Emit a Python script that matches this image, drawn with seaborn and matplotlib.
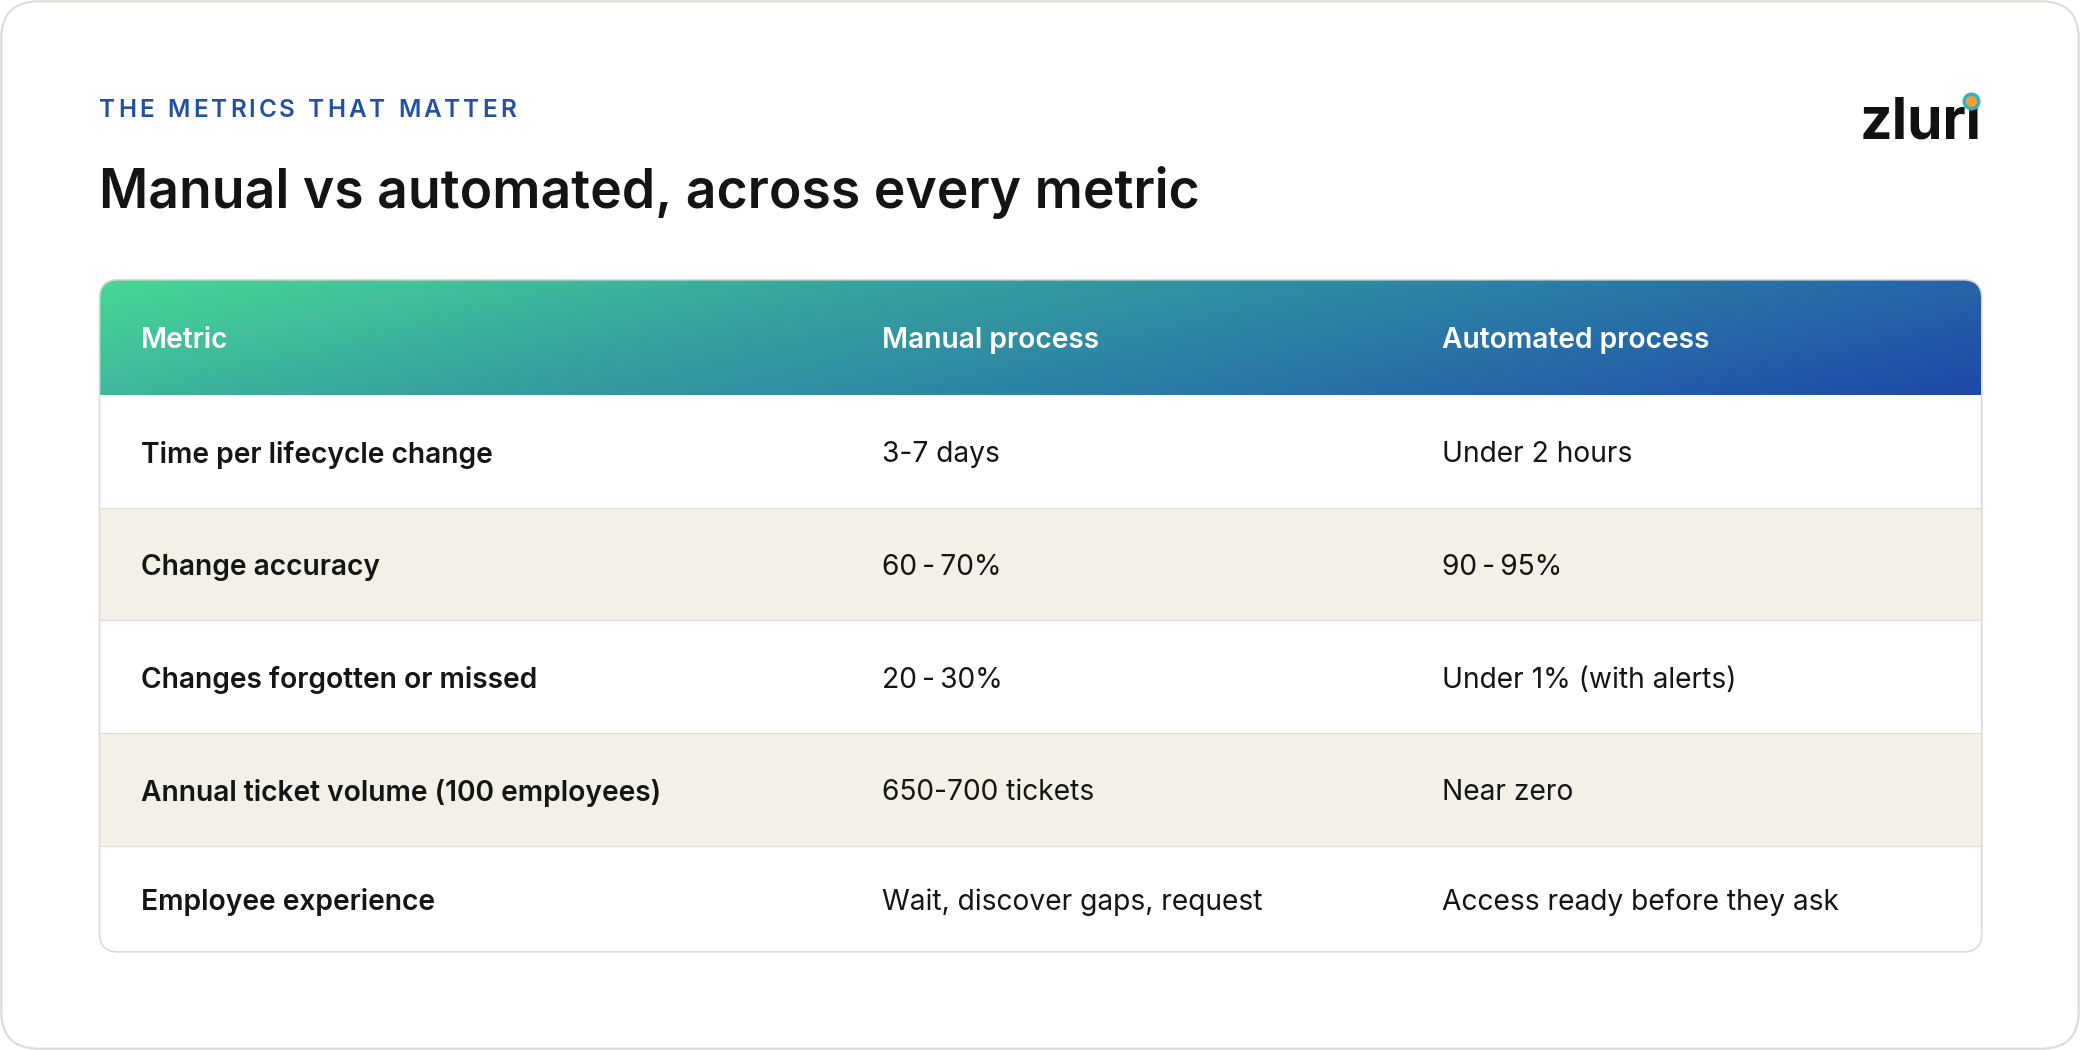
import matplotlib
matplotlib.use("Agg")
import matplotlib.pyplot as plt
import numpy as np
import seaborn as sns
from matplotlib.patches import FancyBboxPatch, Rectangle
from matplotlib.colors import LinearSegmentedColormap

eyebrow = "THE METRICS THAT MATTER"
title = "Manual vs automated, across every metric"
columns = ["Metric", "Manual process", "Automated process"]
metrics = ["Time per lifecycle change", "Change accuracy", "Changes forgotten or missed",
           "Annual ticket volume (100 employees)", "Employee experience"]
manual = ["3-7 days", "60\u2009-\u200970%", "20\u2009-\u200930%", "650-700 tickets", "Wait, discover gaps, request"]
automated = ["Under 2 hours", "90\u2009-\u200995%", "Under 1% (with alerts)", "Near zero", "Access ready before they ask"]

sns.set_style("white")
plt.rcParams['font.family'] = ['Inter', 'DejaVu Sans']

W, H = 1568, 792
fig = plt.figure(figsize=(20.8, 10.5), dpi=100)
ax = fig.add_axes([0, 0, 1, 1])
ax.set_xlim(0, W); ax.set_ylim(H, 0); ax.axis("off")

card = FancyBboxPatch((1, 1), W-2, H-2, boxstyle="round,pad=0,rounding_size=28",
                      fc="white", ec="#dcdcd6", lw=1.5)
ax.add_patch(card)

fig.canvas.draw()
renderer = fig.canvas.get_renderer()
x = 75.0
px_per_unit = fig.bbox.width / W
for ch in eyebrow:
    t = ax.text(x, 83.5, ch, fontsize=17.5, color="#2150a6", fontweight="semibold", va="center", ha="left")
    wpx = t.get_window_extent(renderer).width if ch != " " else 17.5 * 0.28 * 100 / 72
    x += wpx / px_per_unit + 2.3

ax.text(75, 145.5, title, fontsize=38.5, color="#141414", fontweight="semibold", va="center", ha="left")
ax.text(1494, 93, "zluri", fontsize=41, color="#111111", fontweight="bold", va="center", ha="right")
ax.scatter([1486], [76], s=110, color="#f0a030", edgecolor="#35b0c8", linewidth=2.5, zorder=5)

tx0, tx1, ty0, ty1 = 75, 1494, 211, 718
clip = FancyBboxPatch((tx0, ty0), tx1-tx0, ty1-ty0, boxstyle="round,pad=0,rounding_size=14",
                      fc="none", ec="none", transform=ax.transData)
ax.add_patch(clip)

hdr_bottom = 298
cmap = LinearSegmentedColormap.from_list("g", ["#48d896", "#37a39e", "#2a78a6", "#1f48a8"])
grad = np.linspace(0, 1, 400)[None, :] * 0.8 + np.linspace(0, 0.2, 50)[:, None]
im = ax.imshow(grad, cmap=cmap, extent=(tx0, tx1, hdr_bottom, ty0), aspect="auto", zorder=2)
im.set_clip_path(clip)

row_edges = [298, 383, 468, 553, 638, 718]
row_colors = ["white", "#f3f0e8", "white", "#f3f0e8", "white"]
for i in range(5):
    r = Rectangle((tx0, row_edges[i]), tx1-tx0, row_edges[i+1]-row_edges[i],
                  fc=row_colors[i], ec="none", zorder=2)
    ax.add_patch(r); r.set_clip_path(clip)
    if i > 0:
        ax.plot([tx0, tx1], [row_edges[i]]*2, color="#e3e0d8", lw=1, zorder=3)

border = FancyBboxPatch((tx0, ty0), tx1-tx0, ty1-ty0, boxstyle="round,pad=0,rounding_size=14",
                        fc="none", ec="#dedbd3", lw=1.2, zorder=4)
ax.add_patch(border)

col_x = [106, 665, 1087]
fs = 20.3
for x, c in zip(col_x, columns):
    ax.text(x, 257, c, fontsize=fs, color="white", fontweight="semibold", va="center", zorder=5)
for i in range(5):
    yc = (row_edges[i] + row_edges[i+1]) / 2 + 2.5
    ax.text(col_x[0], yc, metrics[i], fontsize=fs, color="#151515", fontweight="semibold", va="center", zorder=5)
    ax.text(col_x[1], yc, manual[i], fontsize=fs, color="#151515", va="center", zorder=5)
    ax.text(col_x[2], yc, automated[i], fontsize=fs, color="#151515", va="center", zorder=5)

fig.savefig("out.png", dpi=100, facecolor="white")
